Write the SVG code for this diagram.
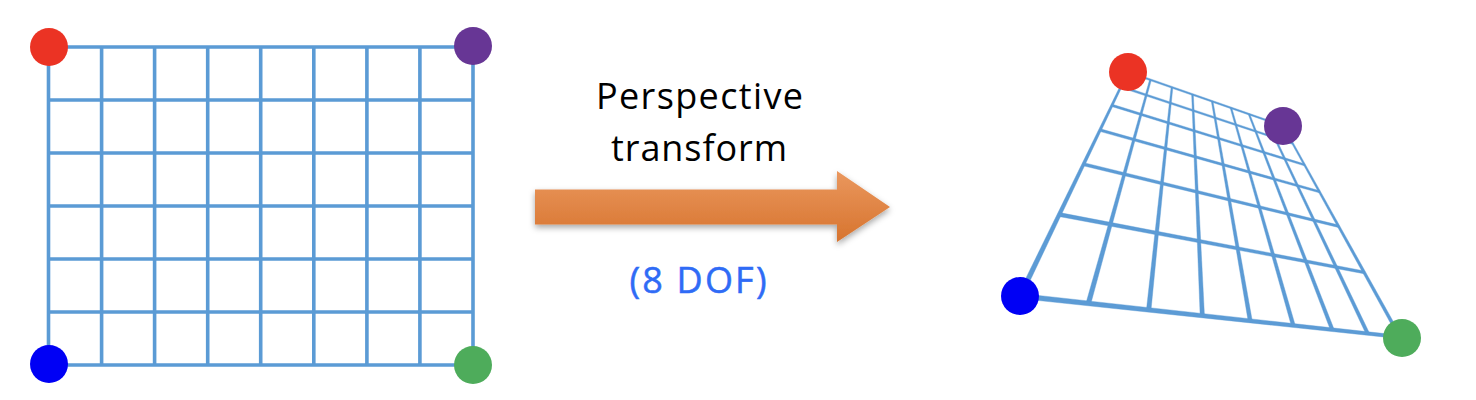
<svg xmlns="http://www.w3.org/2000/svg" width="1476" height="400" viewBox="0 0 1476 400">
<style>
  .grid { stroke: #5B9BD5; stroke-width: 3.6; fill: none; stroke-linecap: square; }
  .pg { fill: #5B9BD5; stroke: #5B9BD5; stroke-width: 0.4; }
  .lbl { font-family: "Open Sans", "Liberation Sans", sans-serif; font-size: 36px; text-anchor: middle; }
  .red { fill: #EB3324; }
  .purple { fill: #673695; }
  .blue { fill: #0000F5; }
  .green { fill: #4EAC5B; }
</style>
<defs>
  <linearGradient id="orange" x1="0" y1="0" x2="0" y2="1">
    <stop offset="0" stop-color="#EA975E"/>
    <stop offset="1" stop-color="#D7742E"/>
  </linearGradient>
  <filter id="shadow" x="-10%" y="-30%" width="120%" height="170%">
    <feDropShadow dx="0" dy="3" stdDeviation="3" flood-color="#000" flood-opacity="0.35"/>
  </filter>
  <filter id="soft" x="-5%" y="-5%" width="110%" height="110%">
    <feGaussianBlur stdDeviation="0.5"/>
  </filter>
</defs>
<rect width="1476" height="400" fill="#FFFFFF"/>

<g id="source-grid">
  <path class="grid" d="M48.5,47V365M101.6,47V365M154.6,47V365M207.7,47V365M260.7,47V365M313.8,47V365M366.9,47V365M419.9,47V365M473,47V365
  M48.5,47H473M48.5,100H473M48.5,153H473M48.5,206H473M48.5,259H473M48.5,312H473M48.5,365H473"/>
</g>
<g id="source-corners">
  <circle class="red" cx="49" cy="47" r="19"/>
  <circle class="purple" cx="473" cy="46" r="19"/>
  <circle class="blue" cx="49" cy="364" r="19"/>
  <circle class="green" cx="473" cy="365" r="19"/>
</g>

<g id="connectors">
  <path d="M535,189.5 L837,189.5 L837,171 L890,207 L837,242 L837,224.5 L535,224.5 Z" fill="url(#orange)" filter="url(#shadow)"/>
</g>

<g id="labels">
  <text class="lbl" x="699.5" y="108.5" textLength="207" fill="#000000">Perspective</text>
  <text class="lbl" x="699" y="161" textLength="176" fill="#000000">transform</text>
  <text class="lbl" x="698" y="293" textLength="137" fill="#2F6BF6" stroke="#2F6BF6" stroke-width="0.5">(8 DOF)</text>
</g>

<g id="target-grid" filter="url(#soft)">
  <polygon class="pg" points="1127.19,71.61 1017.69,294.88 1022.31,297.12 1128.81,72.39"/>
  <polygon class="pg" points="1149.64,79.59 1086.09,302.74 1090.73,304.02 1151.34,80.07"/>
  <polygon class="pg" points="1171.11,87.23 1146.46,309.65 1150.98,310.13 1172.83,87.41"/>
  <polygon class="pg" points="1191.66,94.51 1200.16,315.77 1204.44,315.58 1193.34,94.43"/>
  <polygon class="pg" points="1211.35,101.46 1248.21,321.19 1252.21,320.49 1212.97,101.18"/>
  <polygon class="pg" points="1230.20,108.10 1291.45,326.02 1295.15,324.96 1231.76,107.66"/>
  <polygon class="pg" points="1248.30,114.46 1330.56,330.35 1333.98,329.03 1249.78,113.89"/>
  <polygon class="pg" points="1265.67,120.54 1366.10,334.26 1369.26,332.76 1267.07,119.88"/>
  <polygon class="pg" points="1282.34,126.37 1398.54,337.81 1401.46,336.19 1283.66,125.63"/>
  <polygon class="pg" points="1127.70,72.85 1282.75,126.72 1283.25,125.28 1128.30,71.15"/>
  <polygon class="pg" points="1120.62,87.61 1292.46,144.32 1292.98,142.74 1121.26,85.70"/>
  <polygon class="pg" points="1111.57,106.46 1304.33,165.85 1304.87,164.07 1112.25,104.26"/>
  <polygon class="pg" points="1099.63,131.36 1319.19,192.77 1319.75,190.77 1100.35,128.80"/>
  <polygon class="pg" points="1083.15,165.79 1338.33,227.44 1338.89,225.12 1083.91,162.70"/>
  <polygon class="pg" points="1058.91,216.48 1363.90,273.73 1364.42,270.99 1059.64,212.62"/>
  <polygon class="pg" points="1019.72,298.56 1399.82,338.66 1400.18,335.34 1020.28,293.45"/>
</g>
<g id="target-corners">
  <circle class="red" cx="1128" cy="72" r="19"/>
  <circle class="purple" cx="1283" cy="126" r="19"/>
  <circle class="blue" cx="1020" cy="296" r="19"/>
  <circle class="green" cx="1402" cy="338" r="19"/>
</g>
</svg>
